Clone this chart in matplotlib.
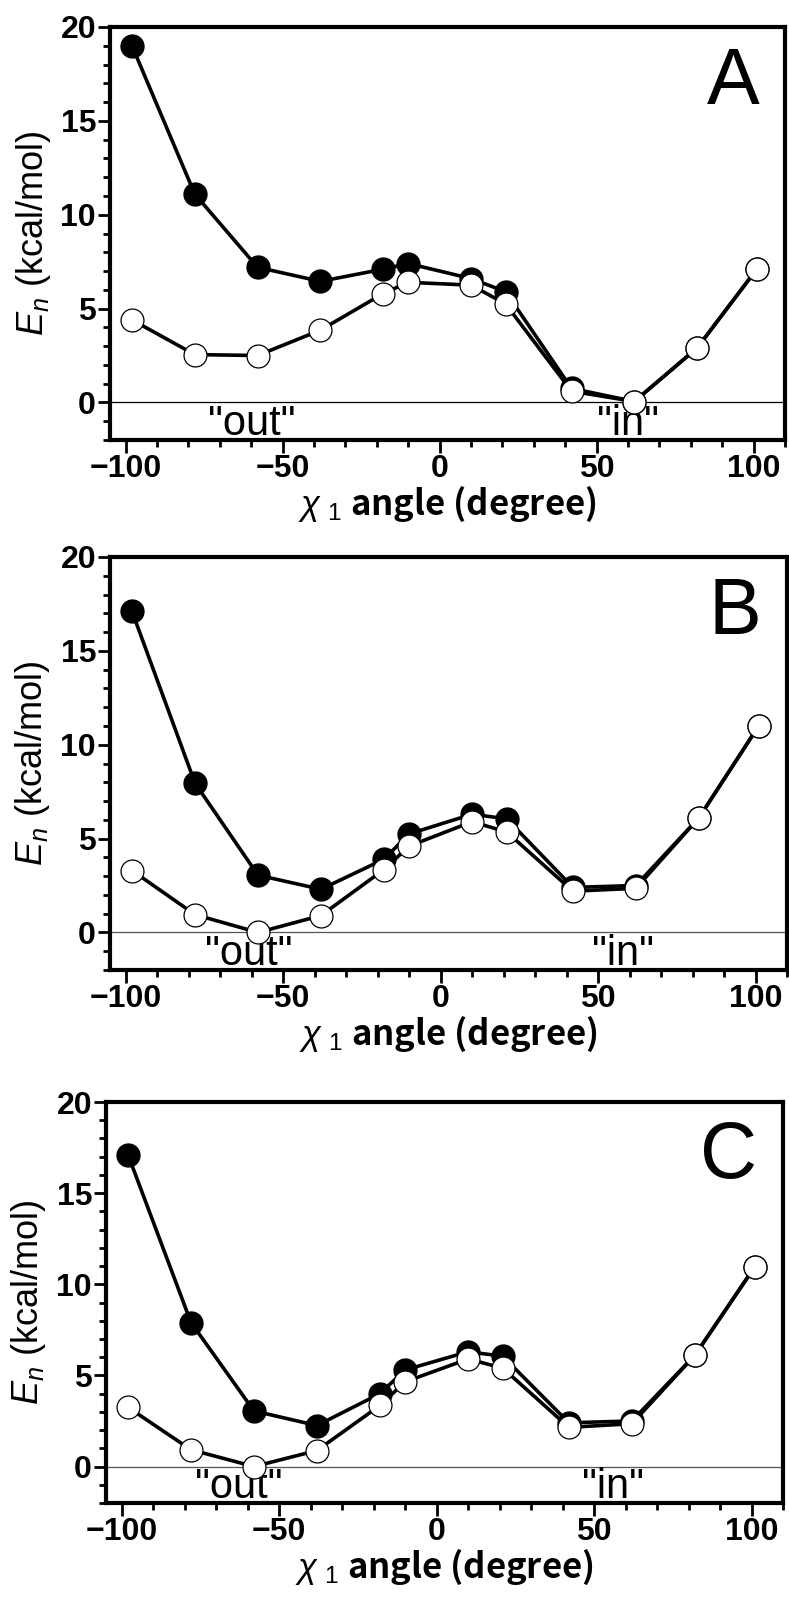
import numpy as np
import matplotlib.pyplot as plt
from matplotlib.ticker import MultipleLocator

# chi1 angles (degree) of the scan points
angle = [-98, -78, -58, -38, -18, -10, 10, 21, 42, 62, 82, 101]

# panel A
a_filled = [19.0, 11.1, 7.2, 6.45, 7.1, 7.4, 6.6, 5.9, 0.75, 0.05, 2.9, 7.1]
a_open = [4.4, 2.55, 2.5, 3.85, 5.8, 6.4, 6.25, 5.25, 0.6, 0.05, 2.9, 7.1]
# panel B
b_filled = [17.1, 7.95, 3.05, 2.3, 3.9, 5.25, 6.3, 6.05, 2.4, 2.5, 6.1, 11.0]
b_open = [3.3, 0.95, 0.0, 0.9, 3.35, 4.6, 5.9, 5.35, 2.2, 2.35, 6.1, 11.0]
# panel C
c_filled = [17.1, 7.9, 3.05, 2.25, 4.0, 5.3, 6.3, 6.05, 2.4, 2.5, 6.1, 10.95]
c_open = [3.25, 0.92, 0.0, 0.88, 3.35, 4.65, 5.9, 5.4, 2.15, 2.35, 6.1, 10.95]

panel_names = ["A", "B", "C"]
out_x = [-60, -61, -63]
in_x = [60, 58, 56]

plt.rcParams['mathtext.fontset'] = 'custom'
plt.rcParams['mathtext.it'] = 'Liberation Sans:italic'
plt.rcParams['mathtext.rm'] = 'Liberation Sans'

W, H = 789, 1614
fig = plt.figure(figsize=(W / 100, H / 100), dpi=100)

# axes boxes in pixels: left, top, right, bottom
boxes = [(110, 27, 785, 440), (110, 557, 787, 970), (106, 1102, 783, 1503)]
zero_colors = ["black", "#555555", "#555555"]

series = [(a_filled, a_open), (b_filled, b_open), (c_filled, c_open)]

for i, (l, t, r, b) in enumerate(boxes):
    ax = fig.add_axes([l / W, 1 - b / H, (r - l) / W, (b - t) / H])
    filled, opened = series[i]

    ax.axhline(0, color=zero_colors[i], lw=0.9, zorder=1)
    ax.plot(angle, filled, '-o', color='black', lw=2.6, ms=16.5,
            mfc='black', mec='black', zorder=3)
    ax.plot(angle, opened, '-o', color='black', lw=2.6, ms=16.5,
            mfc='white', mec='black', mew=0.9, zorder=4)

    ax.set_xlim(-105, 110)
    ax.set_ylim(-2, 20)
    ax.xaxis.set_major_locator(MultipleLocator(50))
    ax.xaxis.set_minor_locator(MultipleLocator(10))
    ax.yaxis.set_major_locator(MultipleLocator(5))
    ax.yaxis.set_minor_locator(MultipleLocator(1))
    ax.tick_params(which='both', direction='out', width=2, top=False, right=False)
    ax.tick_params(which='major', length=9, pad=1)
    ax.tick_params(which='minor', length=5)
    for lab in ax.get_xticklabels() + ax.get_yticklabels():
        lab.set_fontfamily('Liberation Sans')
        lab.set_fontweight('bold')
        lab.set_fontsize(23)
    for sp in ax.spines.values():
        sp.set_linewidth(3)

    ax.set_ylabel(r"$E_n$ (kcal/mol)", fontsize=26, family='Liberation Sans')
    ax.yaxis.set_label_coords(-0.085, 0.5)
    ax.set_xlabel(r"$\chi$ $_1$ angle (degree)", fontsize=25,
                  family=['Noto Sans CJK JP', 'DejaVu Sans'], fontweight='bold',
                  labelpad=0)

    ax.text(0.962, 0.955, panel_names[i], transform=ax.transAxes, ha='right',
            va='top', fontsize=57, family='Liberation Sans')
    ax.text(out_x[i], -1.75, '"out"', ha='center', va='baseline', fontsize=30,
            family='Liberation Sans')
    ax.text(in_x[i], -1.75, '"in"', ha='center', va='baseline', fontsize=30,
            family='Liberation Sans')

fig.savefig("out.png", dpi=100)
